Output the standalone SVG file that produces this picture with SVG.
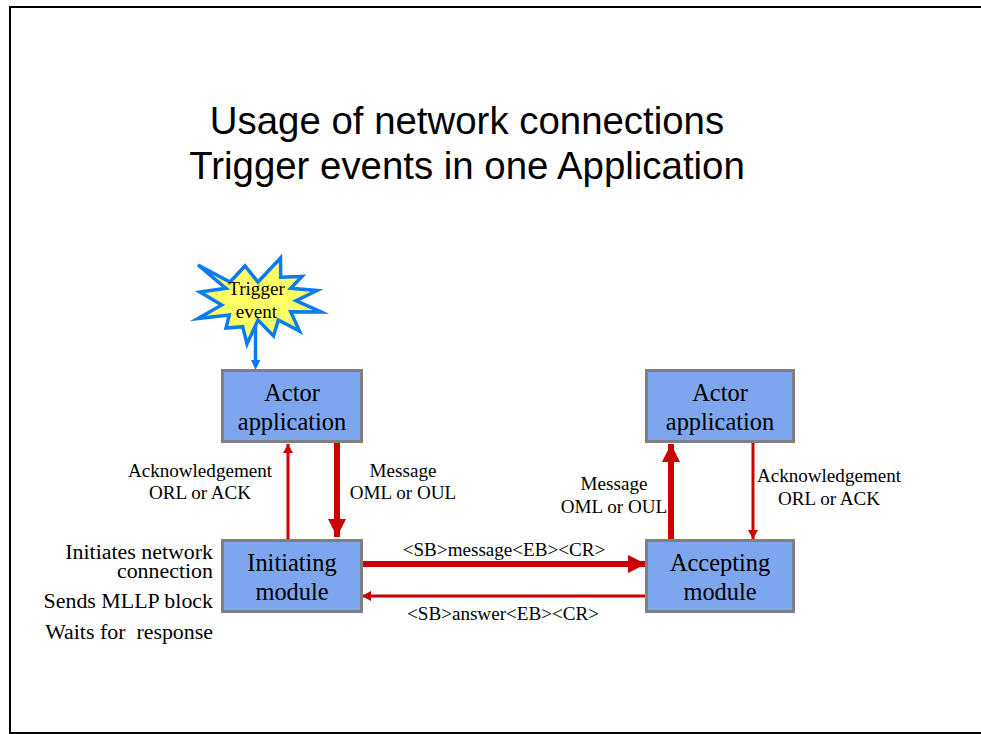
<svg xmlns="http://www.w3.org/2000/svg" width="981" height="734" viewBox="0 0 981 734">
<style>
text{font-family:"Liberation Serif","Times New Roman",serif;fill:#000;text-anchor:middle}
.title{font-family:"Liberation Sans",Arial,sans-serif;font-size:38.4px}
.box{fill:#7ea6ee;stroke:#808080;stroke-width:3}
.nl{font-size:24.4px}
.lb{font-size:19.1px}
.sd{font-size:21.9px;text-anchor:end;white-space:pre}
.r{fill:none;stroke:#cc0000}
</style>
<defs>
<marker id="ah" markerUnits="userSpaceOnUse" markerWidth="12" markerHeight="12" refX="9" refY="5" orient="auto"><path d="M0 0L9 5L0 10Z" fill="#cc0000"/></marker>
<marker id="ahb" markerUnits="userSpaceOnUse" markerWidth="24" markerHeight="24" refX="18" refY="9" orient="auto"><path d="M0 0L18 9L0 18Z" fill="#cc0000"/></marker>
</defs>
<path d="M981 7H10V733H981" fill="none" stroke="#000" stroke-width="2"/>
<g id="title"><text class="title" x="467" y="134">Usage of network connections</text><text class="title" x="467" y="179">Trigger events in one Application</text></g>
<g id="connectors">
<path d="M255.500 320V361" fill="none" stroke="#0a7cf0" stroke-width="3.500"/><path d="M251 360H260.500L255.500 370Z" fill="#0a7cf0"/>
<path class="r" stroke-width="3" d="M288 539V444" marker-end="url(#ah)"/>
<path class="r" stroke-width="6" d="M337 443V537" marker-end="url(#ahb)"/>
<path class="r" stroke-width="6" d="M671 539V444" marker-end="url(#ahb)"/>
<path class="r" stroke-width="3" d="M753 443V539" marker-end="url(#ah)"/>
<path class="r" stroke-width="6" d="M363 564H646" marker-end="url(#ahb)"/>
<path class="r" stroke-width="3" d="M646 596H362" marker-end="url(#ah)"/>
</g>
<g id="trigger"><polygon points="198,265 230,282 245,266 258,282 280.500,258 280.700,277.300 302,276.500 290.700,288.300 317,290.500 296,300.700 321,312 290.700,311.700 299.500,331 278.300,320 273.500,336 258,320 247,344 242.700,326.700 226,328 229.300,315 198,318.500 221.700,305 200,292 226,288.300" fill="#ffff66" stroke="#0a7cf0" stroke-width="3.500" stroke-miterlimit="8"/><text class="lb" x="256.500" y="295">Trigger</text><text class="lb" x="256.500" y="318">event</text></g>
<g id="actor1"><rect class="box" x="222.500" y="370.500" width="139" height="71"/><text class="nl" x="292" y="401">Actor</text><text class="nl" x="292" y="430">application</text></g>
<g id="actor2"><rect class="box" x="646.500" y="370.500" width="147" height="71"/><text class="nl" x="720" y="401">Actor</text><text class="nl" x="720" y="430">application</text></g>
<g id="initiating"><rect class="box" x="222.500" y="540.500" width="139" height="71"/><text class="nl" x="292" y="571">Initiating</text><text class="nl" x="292" y="600">module</text></g>
<g id="accepting"><rect class="box" x="646.500" y="540.500" width="147" height="71"/><text class="nl" x="720" y="571">Accepting</text><text class="nl" x="720" y="600">module</text></g>
<g id="labels">
<text class="lb" x="200" y="477">Acknowledgement</text><text class="lb" x="200" y="499">ORL or ACK</text>
<text class="lb" x="403" y="477">Message</text><text class="lb" x="403" y="499">OML or OUL</text>
<text class="lb" x="614" y="490">Message</text><text class="lb" x="614" y="513">OML or OUL</text>
<text class="lb" x="829" y="482">Acknowledgement</text><text class="lb" x="829" y="505">ORL or ACK</text>
<text class="lb" x="504" y="556">&lt;SB&gt;message&lt;EB&gt;&lt;CR&gt;</text>
<text class="lb" x="503" y="620">&lt;SB&gt;answer&lt;EB&gt;&lt;CR&gt;</text>
<text class="sd" x="213" y="559">Initiates network</text>
<text class="sd" x="213" y="578">connection</text>
<text class="sd" x="213" y="608">Sends MLLP block</text>
<text class="sd" x="213" y="639">Waits for  response</text>
</g>
</svg>
